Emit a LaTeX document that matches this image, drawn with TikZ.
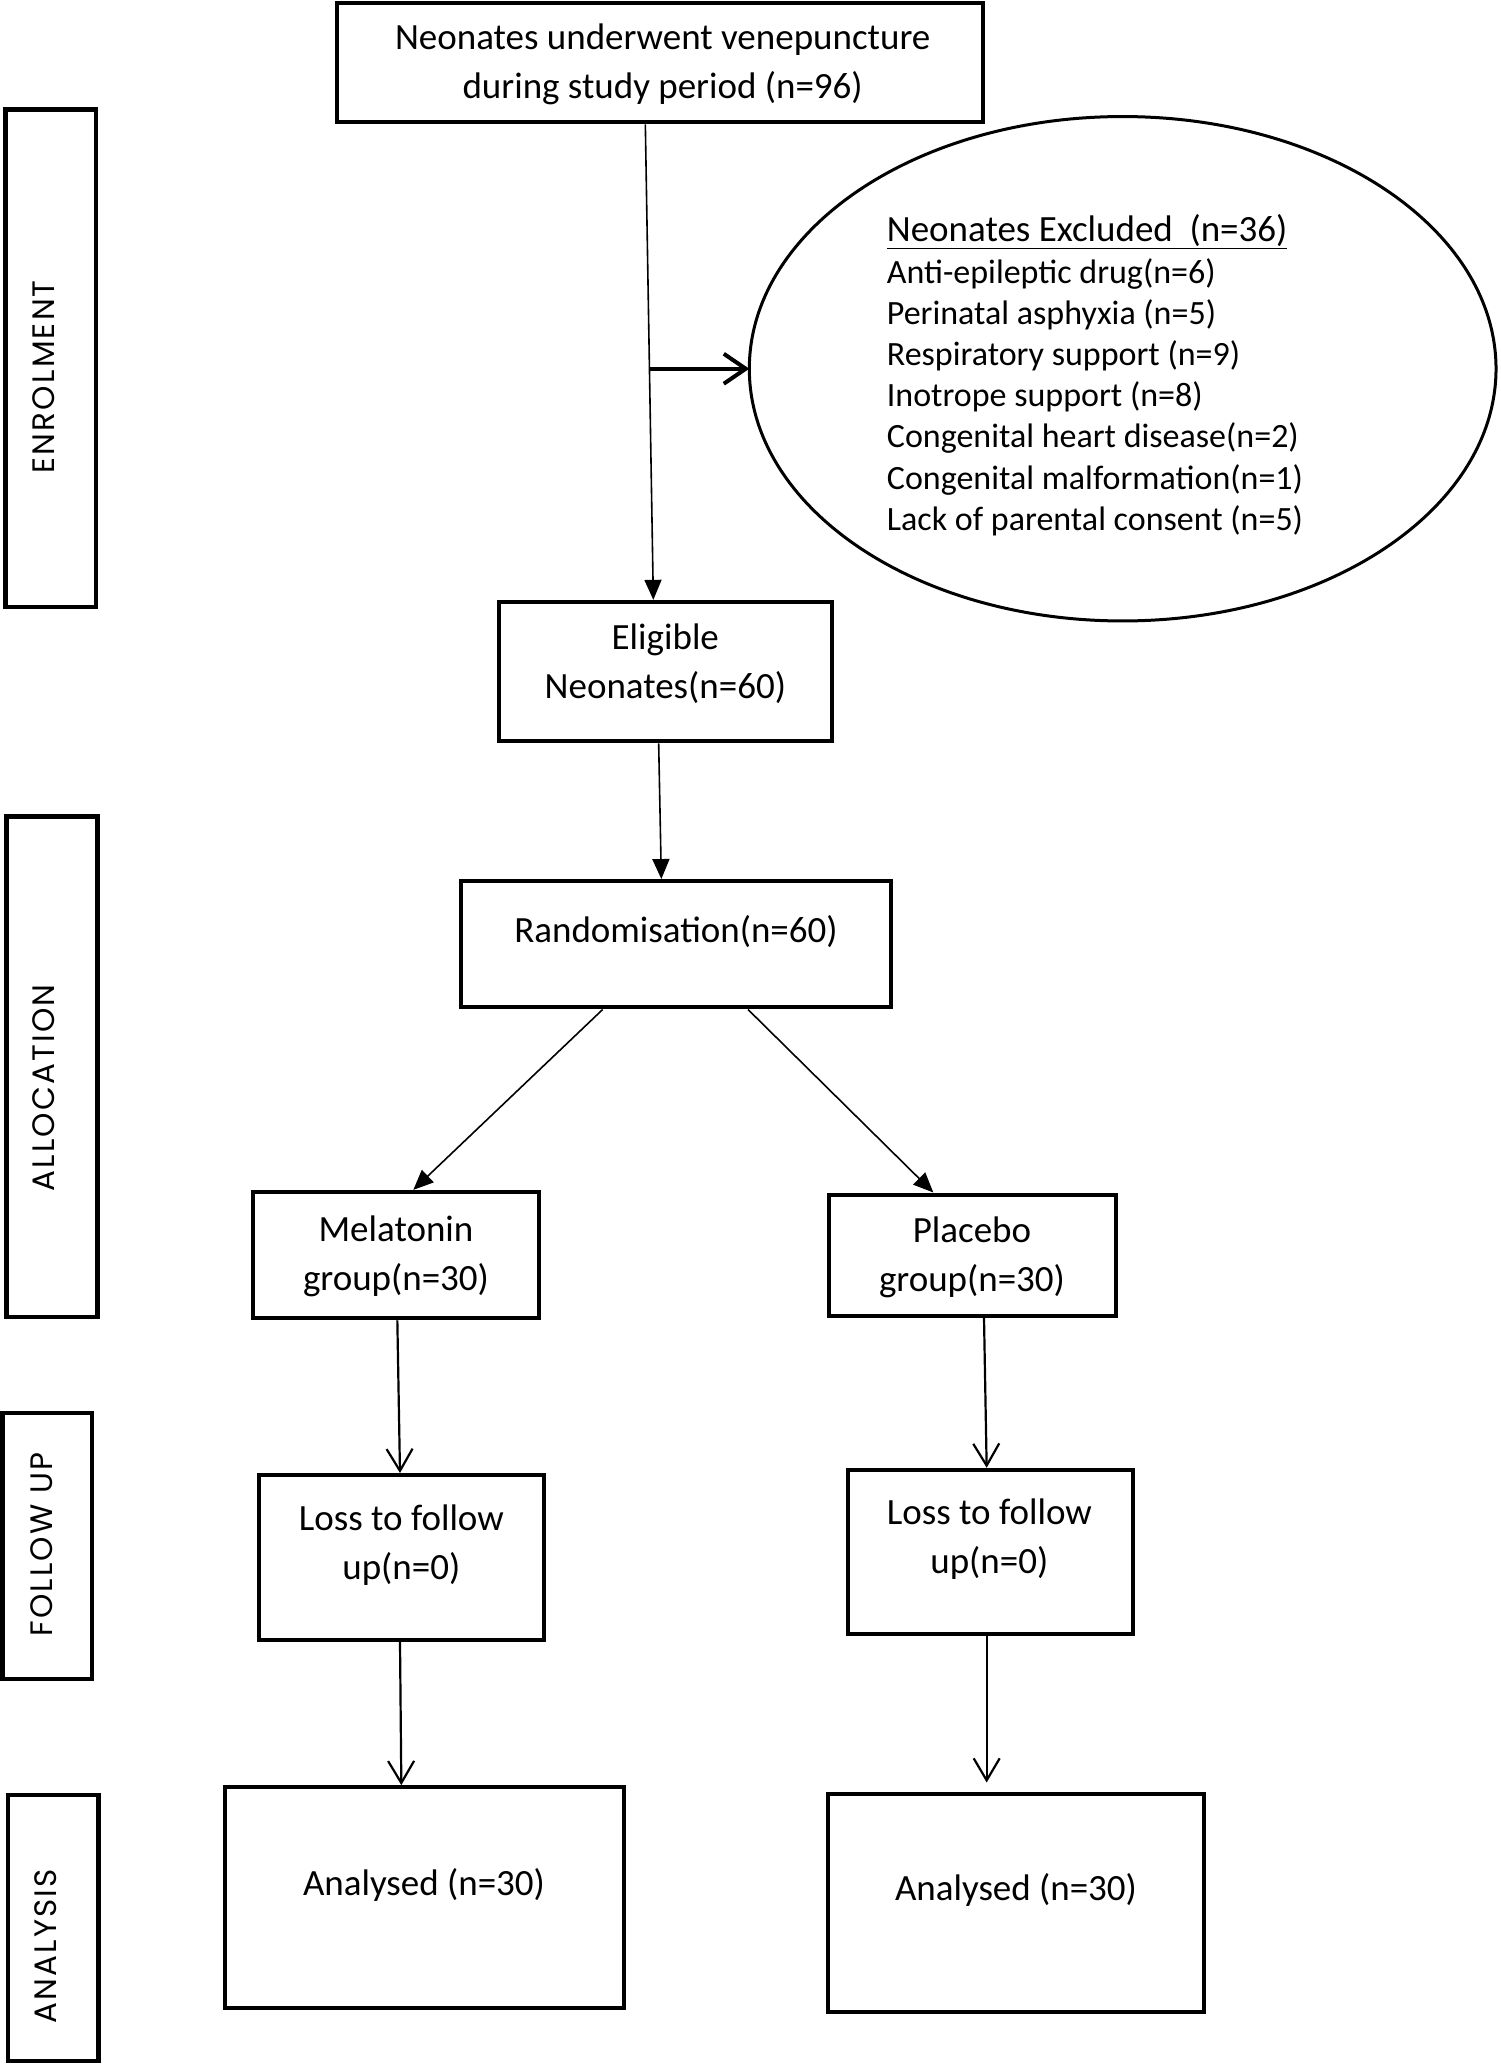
\documentclass[tikz,border=0pt]{standalone}
\usepackage{fontspec}
\setmainfont{Carlito}
\newfontfamily\lanefont[LetterSpace=7]{Poppins}
\usetikzlibrary{arrows.meta,calc,fit,shapes.geometric}
\begin{document}
\begin{tikzpicture}[x=1.33333pt,y=-1.31696pt,
  box/.style={draw, line width=4pt, inner sep=0pt},
  lanebox/.style={draw, line width=4.5pt, inner sep=0pt},
  txt/.style={font=\fontsize{37}{49}\selectfont, align=center, inner sep=0pt},
  etxt/.style={font=\fontsize{34}{41.2}\selectfont, align=left, inner sep=0pt},
  lanetxt/.style={font=\lanefont\fontsize{31}{36}\selectfont, rotate=90, inner sep=0pt},
  arrF/.style={line width=1.6pt, -{Triangle[length=20pt,width=17pt]}},
  arrV/.style={line width=2.2pt, -{Straight Barb[length=22pt,width=26pt,line width=2.2pt]}},
  arrH/.style={line width=4pt, -{Straight Barb[length=22pt,width=30pt,line width=4pt]}}]
\fill[white] (0,0) rectangle (1125,1568);
\useasboundingbox (0,0) rectangle (1125,1568);

% lane boxes
\node[lanebox, fit={(4,83)(72,461)}] (enr) {};
\node[lanebox, fit={(5,620)(73,1000)}] (alloc) {};
\node[lanebox, fit={(2,1073)(69,1275)}] (fol) {};
\node[lanebox, fit={(6,1363)(74,1565)}] (ana) {};
\node[lanetxt] (enrT) at (33,286) {ENROLMENT};
\node[lanetxt] (allocT) at (33,826) {ALLOCATION};
\node[lanetxt] (folT) at (31,1173) {FOLLOW UP};
\node[lanetxt] (anaT) at (34,1478) {ANALYSIS};

% boxes
\node[box, fit={(253,2)(737,93)}] (top) {};
\node[txt] (topT) at (497,49) {Neonates underwent venepuncture\\during study period (n=96)};

\node[draw, ellipse, line width=3pt, inner sep=0pt, outer sep=0pt,
      minimum width=746.7pt, minimum height=504.4pt] (excl) at (842,280) {};
\node[etxt, anchor=west] (exclT) at (665,285) {\fontsize{37}{41.2}\selectfont\underline{Neonates Excluded\ \ (n=36)}\\
Anti-epileptic drug(n=6)\\
Perinatal asphyxia (n=5)\\
Respiratory support (n=9)\\
Inotrope support (n=8)\\
Congenital heart disease(n=2)\\
Congenital malformation(n=1)\\
Lack of parental consent (n=5)};

\node[box, fit={(374,457)(624,563)}] (elig) {};
\node[txt] (eligT) at (499,504) {Eligible\\Neonates(n=60)};

\node[box, fit={(346,669)(668,765)}] (rand) {};
\node[txt] (randT) at (507,707) {Randomisation(n=60)};

\node[box, fit={(190,905)(404,1001)}] (mel) {};
\node[txt] (melT) at (297,954) {Melatonin\\group(n=30)};

\node[box, fit={(622,907)(837,999)}] (plac) {};
\node[txt] (placT) at (729,955) {Placebo\\group(n=30)};

\node[box, fit={(194,1120)(408,1245)}] (lossL) {};
\node[txt] (lossLT) at (301,1173) {Loss to follow\\up(n=0)};

\node[box, fit={(636,1116)(850,1241)}] (lossR) {};
\node[txt] (lossRT) at (742,1169) {Loss to follow\\up(n=0)};

\node[box, fit={(169,1357)(468,1525)}] (anL) {};
\node[txt] (anLT) at (318,1431) {Analysed (n=30)};

\node[box, fit={(621,1362)(903,1528)}] (anR) {};
\node[txt] (anRT) at (762,1435) {Analysed (n=30)};

% connectors
\coordinate (br) at (487,280);
\draw[arrF] ($(top.south)+(-11,0)$) -- ($(elig.north)+(-9,0)$);
\draw[arrH] (br) -- (excl.west);
\draw[arrF] ($(elig.south)+(-5,0)$) -- ($(rand.north)+(-11,0)$);
\draw[arrF] ($(rand.south)+(-55,0)$) -- ($(mel.north)+(13,0)$);
\draw[arrF] ($(rand.south)+(54,0)$) -- ($(plac.north)+(-29.5,0)$);
\draw[arrV] ($(mel.south)+(1,0)$) -- ($(lossL.north)+(-1,0)$);
\draw[arrV] ($(plac.south)+(8.5,0)$) -- ($(lossR.north)+(-3,0)$);
\draw[arrV] ($(lossL.south)+(-1,0)$) -- ($(anL.north)+(-17.5,0)$);
\draw[arrV] ($(lossR.south)+(-3,0)$) -- ($(anR.north)+(-22,-7)$);
\end{tikzpicture}
\end{document}
